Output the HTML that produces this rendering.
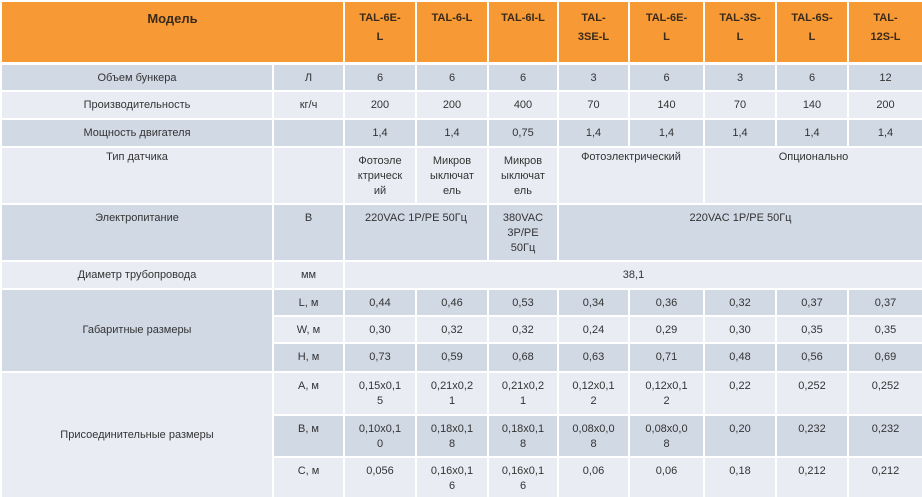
<!DOCTYPE html>
<html><head><meta charset="utf-8">
<style>
html,body{margin:0;padding:0;background:#fff;width:922px;height:497px;overflow:hidden}
table{border-collapse:collapse;table-layout:fixed;width:922px;font-family:"Liberation Sans","DejaVu Sans",sans-serif;font-size:11px;color:#333}
td{border:2px solid #fff;text-align:center;vertical-align:top;padding:6px 2px 0 2px;line-height:15px;overflow:hidden;box-sizing:border-box}
tr.h td{background:#f79a36;font-weight:bold;color:#3a2a1a;padding-top:7px;line-height:19px;border-bottom:3px solid #fff}
tr.h td.m{font-size:13px;padding-top:7px}
.d td{background:#d1d9e5}
.l td{background:#e9edf3}
</style></head><body>
<table>
<colgroup><col style="width:272px"><col style="width:71px"><col style="width:72px"><col style="width:72px"><col style="width:70px"><col style="width:71px"><col style="width:75px"><col style="width:72px"><col style="width:72px"><col style="width:75px"></colgroup>
<tr class="h" style="height:62px"><td class="m" colspan="2">Модель</td><td>TAL-6E-<br>L</td><td>TAL-6-L</td><td>TAL-6I-L</td><td>TAL-<br>3SE-L</td><td>TAL-6E-<br>L</td><td>TAL-3S-<br>L</td><td>TAL-6S-<br>L</td><td>TAL-<br>12S-L</td></tr>
<tr class="d" style="height:28px"><td>Объем бункера</td><td>Л</td><td>6</td><td>6</td><td>6</td><td>3</td><td>6</td><td>3</td><td>6</td><td>12</td></tr>
<tr class="l" style="height:28px"><td>Производительность</td><td>кг/ч</td><td>200</td><td>200</td><td>400</td><td>70</td><td>140</td><td>70</td><td>140</td><td>200</td></tr>
<tr class="d" style="height:28px"><td>Мощность двигателя</td><td></td><td>1,4</td><td>1,4</td><td>0,75</td><td>1,4</td><td>1,4</td><td>1,4</td><td>1,4</td><td>1,4</td></tr>
<tr class="l" style="height:57px"><td style="padding-top:2px">Тип датчика</td><td></td><td>Фотоэле<br>ктрическ<br>ий</td><td>Микров<br>ыключат<br>ель</td><td>Микров<br>ыключат<br>ель</td><td colspan="2" style="padding-top:2px">Фотоэлектрический</td><td colspan="3" style="padding-top:2px">Опционально</td></tr>
<tr class="d" style="height:57px"><td>Электропитание</td><td>В</td><td colspan="2">220VAC 1P/PE 50Гц</td><td>380VAC<br>3P/PE<br>50Гц</td><td colspan="5">220VAC 1P/PE 50Гц</td></tr>
<tr class="l" style="height:28px"><td>Диаметр трубопровода</td><td>мм</td><td colspan="8">38,1</td></tr>
<tr class="d" style="height:27px"><td rowspan="3" style="vertical-align:middle;padding-top:0">Габаритные размеры</td><td>L, м</td><td>0,44</td><td>0,46</td><td>0,53</td><td>0,34</td><td>0,36</td><td>0,32</td><td>0,37</td><td>0,37</td></tr>
<tr class="l" style="height:27px"><td>W, м</td><td>0,30</td><td>0,32</td><td>0,32</td><td>0,24</td><td>0,29</td><td>0,30</td><td>0,35</td><td>0,35</td></tr>
<tr class="d" style="height:29px"><td>H, м</td><td>0,73</td><td>0,59</td><td>0,68</td><td>0,63</td><td>0,71</td><td>0,48</td><td>0,56</td><td>0,69</td></tr>
<tr class="l" style="height:43px"><td rowspan="3" style="vertical-align:middle;padding-top:0">Присоединительные размеры</td><td>A, м</td><td>0,15x0,1<br>5</td><td>0,21x0,2<br>1</td><td>0,21x0,2<br>1</td><td>0,12x0,1<br>2</td><td>0,12x0,1<br>2</td><td>0,22</td><td>0,252</td><td>0,252</td></tr>
<tr class="d" style="height:42px"><td>B, м</td><td>0,10x0,1<br>0</td><td>0,18x0,1<br>8</td><td>0,18x0,1<br>8</td><td>0,08x0,0<br>8</td><td>0,08x0,0<br>8</td><td>0,20</td><td>0,232</td><td>0,232</td></tr>
<tr class="l" style="height:42px"><td>C, м</td><td>0,056</td><td>0,16x0,1<br>6</td><td>0,16x0,1<br>6</td><td>0,06</td><td>0,06</td><td>0,18</td><td>0,212</td><td>0,212</td></tr>
</table>
</body></html>
